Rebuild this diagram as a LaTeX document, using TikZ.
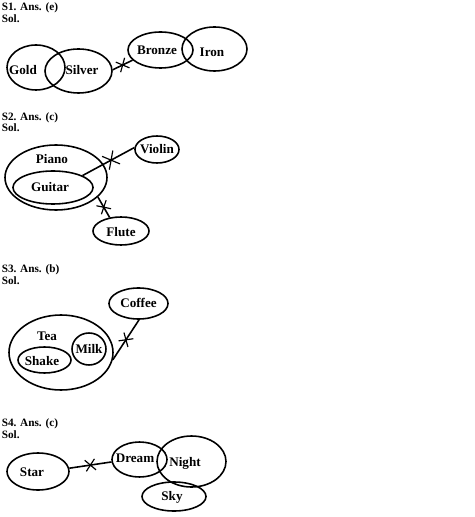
\documentclass[tikz,border=0pt]{standalone}
\usepackage{fontspec}
\setmainfont{Liberation Serif}
\usetikzlibrary{shapes.geometric,shapes.misc}

\begin{document}
\begin{tikzpicture}[x=0.03cm,y=-0.03cm,line width=1.35pt,
  set/.style 2 args={ellipse,draw,inner sep=0pt,minimum width=#1*0.03cm,minimum height=#2*0.03cm},
  word/.style={font=\fontsize{11.2}{13}\bfseries,inner sep=0pt},
  head/.style={anchor=base west,font=\fontsize{9.6}{11}\bfseries,inner sep=0pt},
  cut/.style={cross out,draw,sloped,inner sep=0pt,minimum width=0.26cm,minimum height=0.3cm,line width=1pt}]
\useasboundingbox (0,0) rectangle (474,517);
% S1
\node[head] (h1) at (1,10.5) {S1. Ans. (e)};
\node[head] (s1) at (1,22.5) {Sol.};
\node[set={58}{45}] (gold) at (36,67.5) {};
\node[set={67}{44}] (silver) at (78.5,71) {};
\node[set={65}{36}] (bronze) at (160.5,50) {};
\node[set={65}{44}] (iron) at (214.5,49) {};
\node[word] (tgold) at (23,70) {Gold};
\node[word] (tsilver) at (82,70) {Silver};
\node[word] (tbronze) at (157,50) {Bronze};
\node[word] (tiron) at (212,52) {Iron};
\draw (silver.2) -- node[cut] (x1) {} (bronze.200);
% S2
\node[head] (h2) at (1,120.5) {S2. Ans. (c)};
\node[head] (s2) at (1,132) {Sol.};
\node[set={102}{65}] (piano) at (56,177.5) {};
\node[set={80}{33}] (guitar) at (53,187.5) {};
\node[set={44}{27}] (violin) at (157,149.5) {};
\node[set={56}{28}] (flute) at (121,231) {};
\node[word] (tpiano) at (52,159) {Piano};
\node[word] (tguitar) at (50,187) {Guitar};
\node[word] (tviolin) at (157,149) {Violin};
\node[word] (tflute) at (121,232) {Flute};
\draw (guitar.22) -- node[cut,pos=0.55,minimum width=0.33cm,minimum height=0.42cm] (x2) {} (violin.175);
\draw (piano.-25) -- node[cut] (x3) {} (flute.130);
% S3
\node[head] (h3) at (1,272.5) {S3. Ans. (b)};
\node[head] (s3) at (1,284.5) {Sol.};
\node[set={59}{31}] (coffee) at (138.5,303.5) {};
\node[set={104}{75}] (tea) at (61,352.5) {};
\node[set={53}{26}] (shake) at (44.5,360) {};
\node[set={34}{32}] (milk) at (89,349) {};
\node[word] (tcoffee) at (138.5,303) {Coffee};
\node[word] (ttea) at (47,336) {Tea};
\node[word] (tshake) at (42,361) {Shake};
\node[word] (tmilk) at (89,349) {Milk};
\draw (tea.-8) -- node[cut] (x4) {} (coffee.-88);
% S4
\node[head] (h4) at (1,426.5) {S4. Ans. (c)};
\node[head] (s4) at (1,438.5) {Sol.};
\node[set={62}{37}] (star) at (38,471.5) {};
\node[set={55}{35}] (dream) at (139.5,459.5) {};
\node[set={69}{51}] (night) at (191.5,461.5) {};
\node[set={64}{29}] (sky) at (174,496.5) {};
\node[word] (tstar) at (32,472) {Star};
\node[word] (tdream) at (135,458) {Dream};
\node[word] (tnight) at (185,463) {Night};
\node[word] (tsky) at (172,497) {Sky};
\draw (star.6) -- node[cut] (x5) {} (dream.185);
\end{tikzpicture}
\end{document}
